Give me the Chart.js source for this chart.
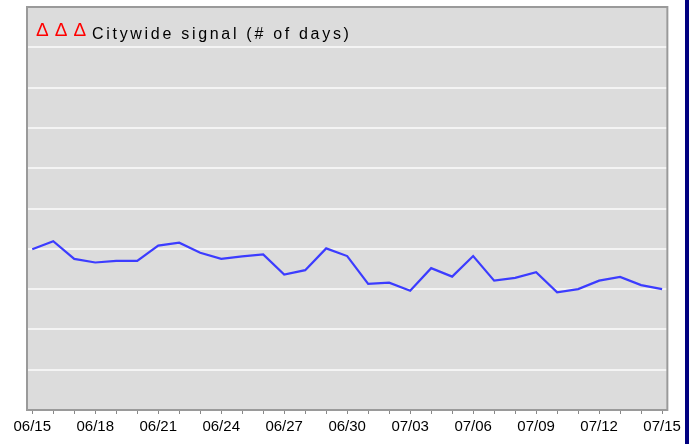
<!DOCTYPE html>
<html>
<head>
<meta charset="utf-8">
<script src="https://cdn.jsdelivr.net/npm/chart.js@4/dist/chart.umd.min.js"></script>
<style>
  body { margin: 0; background: #fff; }
  #wrap { position: relative; width: 689px; height: 444px; }
  #barra { position: absolute; right: 0; top: 0; width: 4px; height: 444px; background: #000080; }
</style>
</head>
<body>
<div id="wrap">
  <canvas id="grafica" width="685" height="444"></canvas>
  <div id="barra"></div>
</div>
<script>
const fechas = ['06/15','06/16','06/17','06/18','06/19','06/20','06/21','06/22','06/23','06/24',
  '06/25','06/26','06/27','06/28','06/29','06/30','07/01','07/02','07/03','07/04',
  '07/05','07/06','07/07','07/08','07/09','07/10','07/11','07/12','07/13','07/14','07/15'];
const etiquetas = ['06/15','06/18','06/21','06/24','06/27','06/30','07/03','07/06','07/09','07/12','07/15'];
const valores = [3.99, 4.19, 3.75, 3.66, 3.70, 3.70, 4.08, 4.15, 3.90, 3.75,
  3.81, 3.86, 3.36, 3.47, 4.01, 3.82, 3.13, 3.16, 2.96, 3.52,
  3.31, 3.82, 3.21, 3.28, 3.42, 2.92, 3.00, 3.21, 3.30, 3.10, 3.00];
const serie = 'Citywide signal (# of days)';

// fondo gris, borde y leyenda dentro del area
const marco = {
  id: 'marco',
  beforeDraw(chart) {
    const { ctx, chartArea: a } = chart;
    ctx.save();
    ctx.fillStyle = '#dcdcdc';
    ctx.fillRect(a.left, a.top, a.right - a.left, a.bottom - a.top);
    ctx.restore();
  },
  afterDraw(chart) {
    const { ctx, chartArea: a } = chart;
    ctx.save();
    ctx.strokeStyle = '#9a9a9a';
    ctx.lineWidth = 2;
    ctx.strokeRect(a.left, a.top, a.right - a.left, a.bottom - a.top);

    ctx.textBaseline = 'alphabetic';
    ctx.font = '19px "Liberation Sans"';
    ctx.fillStyle = '#ff0000';
    ctx.letterSpacing = '6px';
    ctx.fillText('\u0394\u0394\u0394', a.left + 9, a.top + 29);
    ctx.font = '16px "Liberation Sans"';
    ctx.fillStyle = '#000';
    ctx.letterSpacing = '2.7px';
    ctx.fillText(chart.data.datasets[0].label, a.left + 65, a.top + 32);
    ctx.restore();
  }
};

const ctx = document.getElementById('grafica').getContext('2d');

let chart = new Chart(ctx, {
  type: 'line',
  data: {
    datasets: [{
      label: serie,
      data: valores.map((v, i) => ({ x: i, y: v })),
      borderColor: '#3c3cff',
      borderWidth: 2.2,
      pointRadius: 0,
      tension: 0
    }]
  },
  options: {
    responsive: false,
    animation: false,
    layout: { padding: { left: 27, top: 7, right: 15, bottom: 4 } },
    plugins: { legend: { display: false }, tooltip: { enabled: false } },
    scales: {
      x: {
        type: 'linear',
        min: -0.25,
        max: fechas.length - 0.75,
        afterBuildTicks: s => { s.ticks = fechas.map((f, i) => ({ value: i })); },
        border: { display: false },
        grid: { drawOnChartArea: false, drawTicks: true, tickLength: 4, color: '#888', lineWidth: 1 },
        ticks: {
          autoSkip: false,
          maxRotation: 0,
          padding: 4,
          color: '#000',
          font: { family: 'Liberation Sans', size: 15 },
          callback: (v) => etiquetas.includes(fechas[v]) ? fechas[v] : ''
        }
      },
      y: {
        min: 0,
        max: 10,
        border: { display: false },
        grid: { color: '#f4f4f4', lineWidth: 2, drawTicks: false },
        ticks: { display: false, stepSize: 1 }
      }
    }
  },
  plugins: [marco]
});
</script>
</body>
</html>
